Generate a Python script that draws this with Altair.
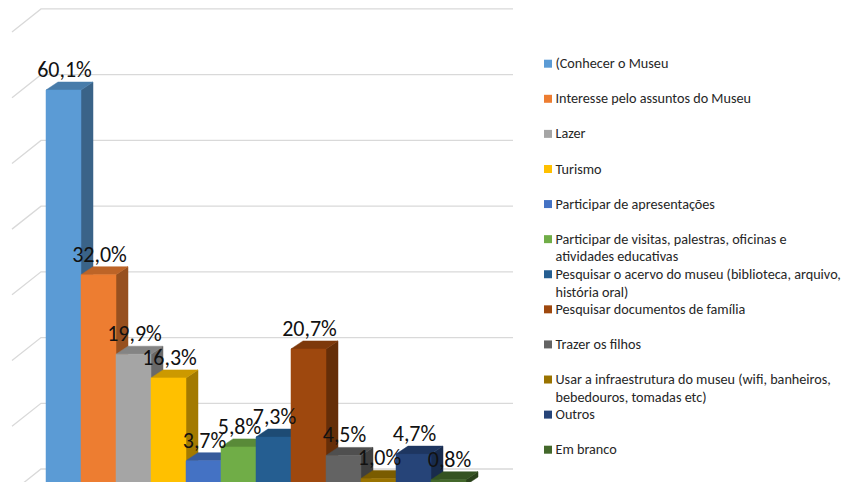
import altair as alt
import pandas as pd

# ---------------- data ----------------
categories = [
    "(Conhecer o Museu",
    "Interesse pelo assuntos do Museu",
    "Lazer",
    "\u00a0Turismo",
    "Participar de apresentações",
    "Participar de visitas, palestras, oficinas e\natividades educativas",
    "Pesquisar o acervo do museu (biblioteca, arquivo,\nhistória oral)",
    "Pesquisar documentos de família",
    "Trazer os filhos",
    "Usar a infraestrutura do museu (wifi, banheiros,\nbebedouros, tomadas etc)",
    "Outros",
    "Em branco",
]
values = [60.1, 32.0, 19.9, 16.3, 3.7, 5.8, 7.3, 20.7, 4.5, 1.0, 4.7, 0.8]
colors = ["#5B9BD5", "#ED7D31", "#A5A5A5", "#FFC000", "#4472C4", "#70AD47",
          "#255E91", "#9E480E", "#636363", "#997300", "#264478", "#43682B"]
gridlines = [0, 10, 20, 30, 40, 50, 60, 70]

# ---------------- layout constants ----------------
W, H = 835, 474
PX_PER_PCT = 6.572          # vertical pixels per percentage point
BASE_Y = 477                # plot-pixel row of 0 %
X0, BAR_PX = 38, 35         # left edge of first bar, bar width (px)
DX = 12 / BAR_PX            # depth offset (x, bar units)
DY = 8 / PX_PER_PCT         # depth offset (y, percent units)
WALL_DY = 16 / PX_PER_PCT   # back wall offset
SLANT_DX = 29 / BAR_PX
SLANT_DY = 23 / PX_PER_PCT
x_dom = [-X0 / BAR_PX, (W - X0) / BAR_PX]
y_dom = [(BASE_Y - H) / PX_PER_PCT, BASE_Y / PX_PER_PCT]
xs = alt.Scale(domain=x_dom, nice=False, zero=False)
ys = alt.Scale(domain=y_dom, nice=False, zero=False)
FONT = "Carlito, Liberation Sans, Arial"


def shade(hex_color, f):
    h = hex_color.lstrip("#")
    r, g, b = (int(h[k:k + 2], 16) for k in (0, 2, 4))
    return "#%02x%02x%02x" % (int(r * f), int(g * f), int(b * f))


def fmt(v):
    return f"{v:.1f}".replace(".", ",") + "%"


front_rows, side_rows, top_rows = [], [], []
for i, (c, v, col) in enumerate(zip(categories, values, colors)):
    front_rows.append(dict(bar=i, x0=i, x1=i + 1, xc=i + 0.5, y0=0, v=v,
                           col=col, label=fmt(v)))
    sc = shade(col, 0.64)
    side_rows.append(dict(bar=i, x=i + 1, lo=0, hi=v, col=sc))
    side_rows.append(dict(bar=i, x=i + 1 + DX, lo=DY, hi=v + DY, col=sc))
    tc = shade(col, 0.8)
    top_rows.append(dict(bar=i, y=v, xl=i, xr=i + 1, col=tc))
    top_rows.append(dict(bar=i, y=v + DY, xl=i + DX, xr=i + 1 + DX, col=tc))

grid_rows = []
wall_left = (41 - 46) / BAR_PX
wall_right = (513 - 46) / BAR_PX
for g in gridlines:
    gy = g + WALL_DY
    grid_rows.append(dict(g=g, x=wall_left - SLANT_DX, y=gy - SLANT_DY))
    grid_rows.append(dict(g=g, x=wall_left, y=gy))
    grid_rows.append(dict(g=g, x=wall_right, y=gy))

front_df = pd.DataFrame(front_rows)
side_df = pd.DataFrame(side_rows)
top_df = pd.DataFrame(top_rows)
grid_df = pd.DataFrame(grid_rows)
legend_df = pd.DataFrame(dict(row=list(range(len(categories))),
                              label=categories, col=colors))

grid = alt.Chart(grid_df).mark_line(color="#D9D9D9", strokeWidth=1.3).encode(
    x=alt.X("x:Q", scale=xs, axis=None),
    y=alt.Y("y:Q", scale=ys, axis=None),
    detail="g:N",
)

sides = alt.Chart(side_df).mark_area(orient="vertical", strokeWidth=0.5).encode(
    x=alt.X("x:Q", scale=xs, axis=None),
    y=alt.Y("hi:Q", scale=ys, axis=None),
    y2="lo:Q",
    detail="bar:N",
    color=alt.Color("col:N", scale=None),
    stroke=alt.Stroke("col:N", scale=None),
)

tops = alt.Chart(top_df).mark_area(orient="horizontal", strokeWidth=0.5).encode(
    y=alt.Y("y:Q", scale=ys, axis=None),
    x=alt.X("xl:Q", scale=xs, axis=None),
    x2="xr:Q",
    detail="bar:N",
    color=alt.Color("col:N", scale=None),
    stroke=alt.Stroke("col:N", scale=None),
)

fronts = alt.Chart(front_df).mark_rect(strokeWidth=0.5).encode(
    x=alt.X("x0:Q", scale=xs, axis=None),
    x2="x1:Q",
    y=alt.Y("y0:Q", scale=ys, axis=None),
    y2="v:Q",
    color=alt.Color("col:N", scale=None),
    stroke=alt.Stroke("col:N", scale=None),
)

labels = alt.Chart(front_df).mark_text(
    font=FONT, fontSize=22, dy=-13, dx=1,
    baseline="alphabetic", align="center", color="#111111",
).encode(
    x=alt.X("xc:Q", scale=xs, axis=None),
    y=alt.Y("v:Q", scale=ys, axis=None),
    text="label:N",
)

main = alt.layer(grid, sides, tops, fronts, labels)

leg_y = alt.Y("row:Q", scale=alt.Scale(domain=[0, 11], range=[55.7, 441.7]), axis=None)
leg_sq = alt.Chart(legend_df).mark_square(size=64, opacity=1).encode(
    x=alt.value(540),
    y=leg_y,
    color=alt.Color("col:N", scale=None),
)
leg_tx = alt.Chart(legend_df).mark_text(
    font=FONT, fontSize=14.2, align="left",
    baseline="alphabetic", dy=4.6, lineBreak="\n", lineHeight=17.7, color="#262626",
).encode(
    x=alt.value(547.5),
    y=leg_y,
    text="label:N",
)
legend = alt.layer(leg_sq, leg_tx)

chart = alt.layer(main, legend).resolve_scale(
    x="independent", y="independent"
).properties(
    width=W, height=H, padding=0, autosize=alt.AutoSizeParams(type="none"),
    background="white",
).configure_view(stroke=None)

chart.save("out.html", embed_options={"renderer": "svg", "actions": False})
